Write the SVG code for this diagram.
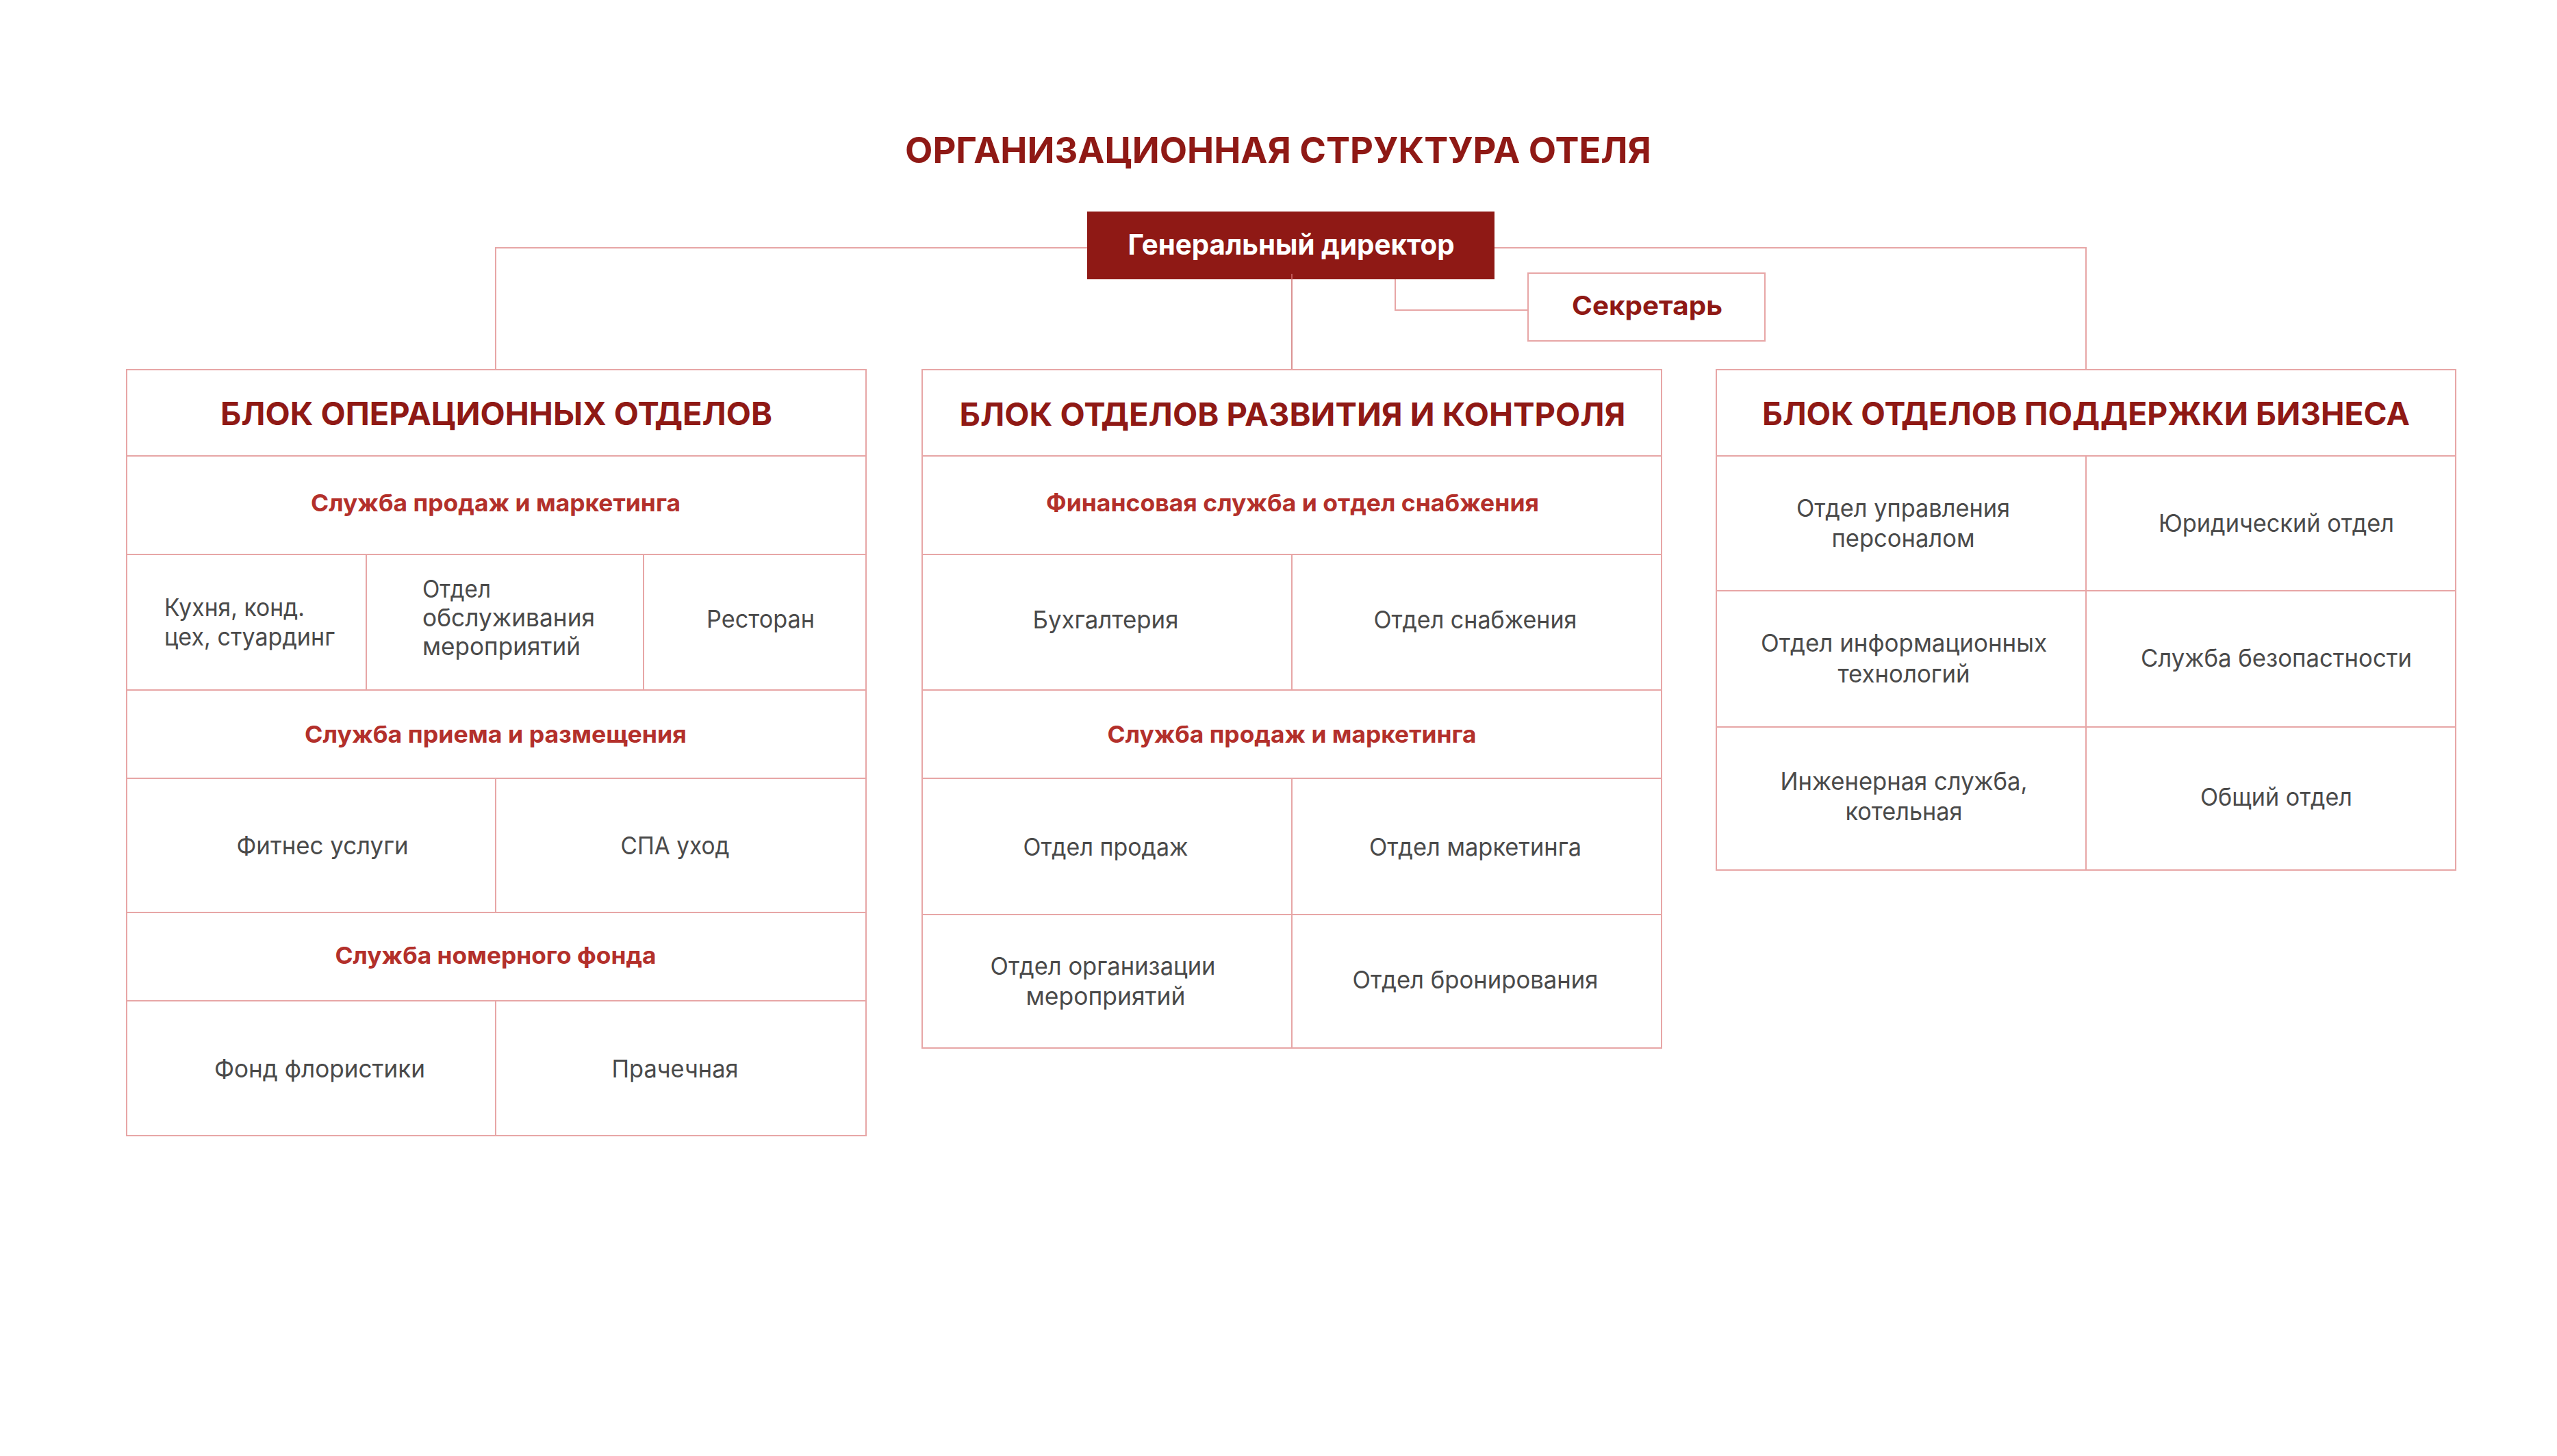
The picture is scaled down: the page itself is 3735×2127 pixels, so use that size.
<svg xmlns="http://www.w3.org/2000/svg" width="3735" height="2127" viewBox="0 0 3735 2127">
<style>
text{font-family:Inter,"Noto Sans","Liberation Sans",sans-serif;}
.title{font-size:52px;font-weight:700;fill:#8f1915;text-anchor:middle;}
.hdr{font-size:47px;font-weight:700;fill:#8f1915;text-anchor:middle;}
.sub{font-size:34.5px;font-weight:700;fill:#b3302b;text-anchor:middle;}
.body{font-size:35.5px;font-weight:400;fill:#4a4a4a;text-anchor:middle;}
.left{text-anchor:start;}
.grid{fill:none;stroke:#e7a6a6;stroke-width:2;}
.conn{fill:none;stroke:#e7a6a6;stroke-width:2;}
.conn2{fill:none;stroke:#cf6f6f;stroke-width:1.5;}
</style>
<rect width="3735" height="2127" fill="#ffffff"/>
<text class="title" x="1867" y="238" textLength="1090" lengthAdjust="spacingAndGlyphs">ОРГАНИЗАЦИОННАЯ СТРУКТУРА ОТЕЛЯ</text>

<g id="connectors">
<path class="conn" d="M724,540 V362 H3047 V540"/>
<path class="conn2" d="M1887,400 V540"/>
<path class="conn" d="M2038,408 V453 H2232"/>
</g>

<g id="gendir">
<rect x="1588" y="309" width="595" height="99" fill="#8f1915"/>
<text x="1886" y="372" style="font-size:41px;font-weight:700;fill:#ffffff;text-anchor:middle" textLength="477" lengthAdjust="spacingAndGlyphs">Генеральный директор</text>
</g>
<path class="conn2" d="M1887,400 V408"/>

<g id="secretary">
<rect class="grid" x="2232" y="399" width="346" height="99" fill="#ffffff"/>
<text x="2406" y="460" style="font-size:38px;font-weight:700;fill:#8f1915;text-anchor:middle" textLength="220" lengthAdjust="spacingAndGlyphs">Секретарь</text>
</g>

<g id="block-ops">
<rect class="grid" x="185" y="540" width="1080" height="1119"/>
<path class="grid" d="M185,666 H1265 M185,810 H1265 M185,1008 H1265 M185,1137 H1265 M185,1333 H1265 M185,1462 H1265 M535,810 V1008 M940,810 V1008 M724,1137 V1333 M724,1462 V1659"/>
<g id="ops-header"><text class="hdr" x="725" y="621" textLength="806" lengthAdjust="spacingAndGlyphs">БЛОК ОПЕРАЦИОННЫХ ОТДЕЛОВ</text></g>
<g id="ops-sales"><text class="sub" x="724" y="747" textLength="540" lengthAdjust="spacingAndGlyphs">Служба продаж и маркетинга</text></g>
<g id="ops-kitchen"><text class="body left" x="240" y="900" textLength="205" lengthAdjust="spacingAndGlyphs">Кухня, конд.</text><text class="body left" x="240" y="943" textLength="249" lengthAdjust="spacingAndGlyphs">цех, стуардинг</text></g>
<g id="ops-events"><text class="body left" x="617" y="873" textLength="100" lengthAdjust="spacingAndGlyphs">Отдел</text><text class="body left" x="617" y="915" textLength="252" lengthAdjust="spacingAndGlyphs">обслуживания</text><text class="body left" x="617" y="957" textLength="231" lengthAdjust="spacingAndGlyphs">мероприятий</text></g>
<g id="ops-restaurant"><text class="body" x="1111" y="917" textLength="158" lengthAdjust="spacingAndGlyphs">Ресторан</text></g>
<g id="ops-reception"><text class="sub" x="724" y="1085" textLength="558" lengthAdjust="spacingAndGlyphs">Служба приема и размещения</text></g>
<g id="ops-fitness"><text class="body" x="471" y="1248" textLength="251" lengthAdjust="spacingAndGlyphs">Фитнес услуги</text></g>
<g id="ops-spa"><text class="body" x="986" y="1248" textLength="159" lengthAdjust="spacingAndGlyphs">СПА уход</text></g>
<g id="ops-rooms"><text class="sub" x="724" y="1408" textLength="469" lengthAdjust="spacingAndGlyphs">Служба номерного фонда</text></g>
<g id="ops-floristry"><text class="body" x="467" y="1574" textLength="308" lengthAdjust="spacingAndGlyphs">Фонд флористики</text></g>
<g id="ops-laundry"><text class="body" x="986" y="1574" textLength="185" lengthAdjust="spacingAndGlyphs">Прачечная</text></g>
</g>

<g id="block-dev">
<rect class="grid" x="1347" y="540" width="1080" height="991"/>
<path class="grid" d="M1347,666 H2427 M1347,810 H2427 M1347,1008 H2427 M1347,1137 H2427 M1347,1336 H2427 M1887,810 V1008 M1887,1137 V1531"/>
<g id="dev-header"><text class="hdr" x="1888" y="622" textLength="973" lengthAdjust="spacingAndGlyphs">БЛОК ОТДЕЛОВ РАЗВИТИЯ И КОНТРОЛЯ</text></g>
<g id="dev-finance"><text class="sub" x="1888" y="747" textLength="720" lengthAdjust="spacingAndGlyphs">Финансовая служба и отдел снабжения</text></g>
<g id="dev-accounting"><text class="body" x="1615" y="918" textLength="213" lengthAdjust="spacingAndGlyphs">Бухгалтерия</text></g>
<g id="dev-supply"><text class="body" x="2155" y="918" textLength="297" lengthAdjust="spacingAndGlyphs">Отдел снабжения</text></g>
<g id="dev-sales"><text class="sub" x="1887" y="1085" textLength="539" lengthAdjust="spacingAndGlyphs">Служба продаж и маркетинга</text></g>
<g id="dev-salesdept"><text class="body" x="1615" y="1250" textLength="241" lengthAdjust="spacingAndGlyphs">Отдел продаж</text></g>
<g id="dev-marketing"><text class="body" x="2155" y="1250" textLength="310" lengthAdjust="spacingAndGlyphs">Отдел маркетинга</text></g>
<g id="dev-events"><text class="body" x="1611" y="1424" textLength="329" lengthAdjust="spacingAndGlyphs">Отдел организации</text><text class="body" x="1615" y="1468" textLength="233" lengthAdjust="spacingAndGlyphs">мероприятий</text></g>
<g id="dev-booking"><text class="body" x="2155" y="1444" textLength="359" lengthAdjust="spacingAndGlyphs">Отдел бронирования</text></g>
</g>

<g id="block-support">
<rect class="grid" x="2507" y="540" width="1080" height="731"/>
<path class="grid" d="M2507,666 H3587 M2507,863 H3587 M2507,1062 H3587 M3047,666 V1271"/>
<g id="sup-header"><text class="hdr" x="3047" y="621" textLength="946" lengthAdjust="spacingAndGlyphs">БЛОК ОТДЕЛОВ ПОДДЕРЖКИ БИЗНЕСА</text></g>
<g id="sup-hr"><text class="body" x="2780" y="755" textLength="312" lengthAdjust="spacingAndGlyphs">Отдел управления</text><text class="body" x="2780" y="799" textLength="209" lengthAdjust="spacingAndGlyphs">персоналом</text></g>
<g id="sup-legal"><text class="body" x="3325" y="777" textLength="344" lengthAdjust="spacingAndGlyphs">Юридический отдел</text></g>
<g id="sup-it"><text class="body" x="2781" y="952" textLength="418" lengthAdjust="spacingAndGlyphs">Отдел информационных</text><text class="body" x="2781" y="997" textLength="193" lengthAdjust="spacingAndGlyphs">технологий</text></g>
<g id="sup-security"><text class="body" x="3325" y="974" textLength="396" lengthAdjust="spacingAndGlyphs">Служба безопастности</text></g>
<g id="sup-engineering"><text class="body" x="2781" y="1154" textLength="361" lengthAdjust="spacingAndGlyphs">Инженерная служба,</text><text class="body" x="2781" y="1198" textLength="171" lengthAdjust="spacingAndGlyphs">котельная</text></g>
<g id="sup-general"><text class="body" x="3325" y="1177" textLength="222" lengthAdjust="spacingAndGlyphs">Общий отдел</text></g>
</g>
</svg>
